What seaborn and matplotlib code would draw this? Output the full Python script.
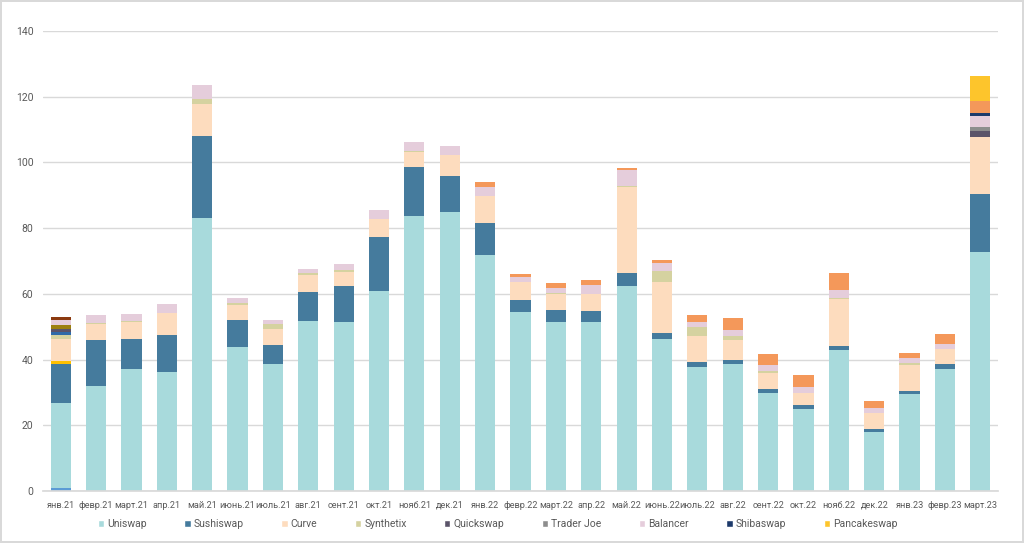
import matplotlib
matplotlib.use("Agg")
import matplotlib.pyplot as plt
from matplotlib.patches import Patch
import seaborn as sns
import pandas as pd

months = ["янв.21", "февр.21", "март.21", "апр.21", "май.21", "июнь.21", "июль.21",
          "авг.21", "сент.21", "окт.21", "нояб.21", "дек.21", "янв.22", "февр.22",
          "март.22", "апр.22", "май.22", "июнь.22", "июль.22", "авг.22", "сент.22",
          "окт.22", "нояб.22", "дек.22", "янв.23", "февр.23", "март.23"]

# series in stacking order (bottom -> top)
other_a     = [0.9] + [0] * 26
uniswap     = [25.8, 32.0, 37.0, 36.3, 83.0, 43.7, 38.8, 51.7, 51.5, 60.9, 83.8, 84.8, 71.7, 54.6,
               51.5, 51.3, 62.5, 46.3, 37.8, 38.6, 29.7, 25.1, 42.9, 18.1, 29.6, 37.0, 72.6]
sushiswap   = [11.9, 14.0, 9.2, 11.2, 25.1, 8.3, 5.6, 8.9, 11.0, 16.3, 14.9, 11.1, 10.0, 3.5,
               3.6, 3.5, 3.9, 1.8, 1.5, 1.3, 1.2, 1.1, 1.2, 0.8, 0.7, 1.7, 17.8]
other_b     = [1.0] + [0] * 26
curve       = [6.6, 4.8, 5.3, 6.6, 9.7, 4.5, 4.8, 5.0, 4.1, 5.5, 4.4, 6.4, 8.2, 5.4,
               4.8, 5.1, 26.1, 15.5, 7.9, 6.1, 5.1, 3.7, 14.3, 4.7, 8.0, 4.6, 17.4]
synthetix   = [1.3, 0.3, 0.3, 0.2, 1.4, 0.8, 1.5, 0.6, 0.7, 0.2, 0.4, 0.0, 0.0, 0.0,
               0.3, 0.0, 0.4, 3.4, 2.6, 1.1, 0.6, 0.0, 0.4, 0.0, 0.6, 0.0, 0.0]
other_c     = [1.0] + [0] * 26
quickswap   = [0.7] + [0] * 25 + [1.8]
trader_joe  = [0] * 26 + [1.3]
other_d     = [1.3] + [0] * 26
balancer    = [1.5, 2.5, 2.1, 2.6, 4.4, 1.3, 1.3, 1.4, 1.7, 2.7, 2.8, 2.8, 2.5, 1.7,
               1.7, 2.7, 4.8, 2.5, 1.7, 2.0, 1.7, 1.8, 2.4, 1.6, 1.5, 1.5, 3.2]
shibaswap   = [0] * 26 + [0.8]
other_e     = [0] * 12 + [1.5, 0.7, 1.3, 1.5, 0.7, 0.8, 2.2, 3.5, 3.5, 3.7, 5.2, 2.2, 1.6, 3.0, 3.8]
other_f     = [0.9] + [0] * 26
pancakeswap = [0] * 26 + [7.6]

series = [
    ("_a", other_a, "#5b9bd5"),
    ("Uniswap", uniswap, "#a8dadc"),
    ("Sushiswap", sushiswap, "#457b9d"),
    ("_b", other_b, "#ffc000"),
    ("Curve", curve, "#fddcbe"),
    ("Synthetix", synthetix, "#d5d2a0"),
    ("_c", other_c, "#2f6aa8"),
    ("Quickswap", quickswap, "#5b5469"),
    ("Trader Joe", trader_joe, "#8d8d8d"),
    ("_d", other_d, "#9c7f10"),
    ("Balancer", balancer, "#e5cddb"),
    ("Shibaswap", shibaswap, "#1d3a6b"),
    ("_e", other_e, "#f4985a"),
    ("_f", other_f, "#8b3a10"),
    ("Pancakeswap", pancakeswap, "#fdc52c"),
]

rows = []
for name, vals, _ in series:
    for i, v in enumerate(vals):
        rows.append({"x": i, "series": name, "value": v})
df = pd.DataFrame(rows)
palette = {name: col for name, _, col in series}
# seaborn stacks the last hue level at the bottom
hue_order = [name for name, _, _ in series][::-1]

sns.set_theme(style="white")
plt.rcParams["font.family"] = ["Roboto", "DejaVu Sans"]

fig = plt.figure(figsize=(10.24, 5.43), dpi=100)
fig.patch.set_edgecolor("#d9d9d9")
fig.patch.set_linewidth(1.5)
ax = fig.add_axes([43 / 1024, 1 - 491 / 543, 955 / 1024, 460 / 543])

sns.histplot(data=df, x="x", weights="value", hue="series", hue_order=hue_order,
             palette=palette, multiple="stack", discrete=True, shrink=0.57,
             alpha=1, linewidth=0, legend=False, ax=ax)

ax.set_xlim(-0.5, len(months) - 0.5)
ax.set_ylim(0, 140)
ax.set_yticks(range(0, 141, 20))
ax.set_xticks(range(len(months)))
ax.set_xticklabels(months)
ax.set_xlabel("")
ax.set_ylabel("")
ax.yaxis.grid(True, color="#d9d9d9", linewidth=1)
ax.set_axisbelow(True)
for s in ["top", "right", "left"]:
    ax.spines[s].set_visible(False)
ax.spines["bottom"].set_color("#d9d9d9")
ax.tick_params(axis="x", length=0, pad=7, labelsize=6.6, colors="#595959")
ax.tick_params(axis="y", length=0, pad=7, labelsize=7.5, colors="#595959")

handles = [Patch(facecolor=col, label=name) for name, _, col in series if not name.startswith("_")]
fig.legend(handles=handles, loc="center", bbox_to_anchor=(0.486, 1 - 524 / 543), ncol=9,
           frameon=False, fontsize=7.5, handlelength=0.6, handleheight=0.6,
           handletextpad=0.3, columnspacing=3.6, labelcolor="#595959")

fig.savefig("out.png", dpi=100)
